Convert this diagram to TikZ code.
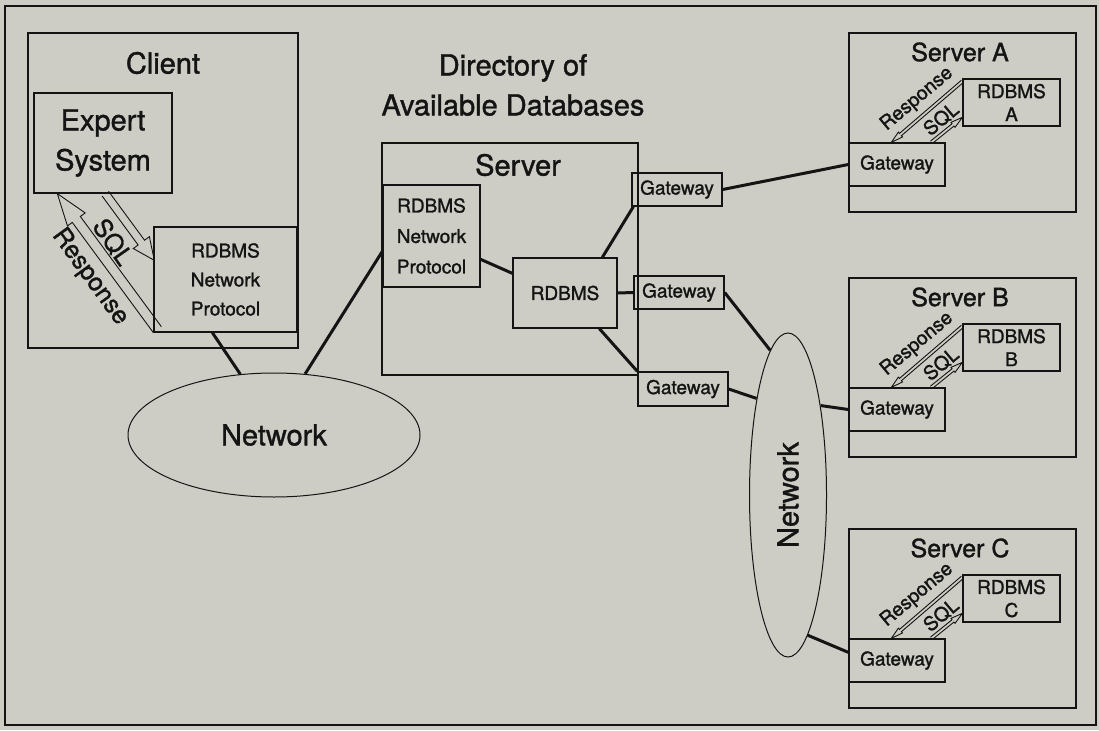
\documentclass[tikz,border=0pt]{standalone}
\usepackage{fontspec}
\usepackage{graphicx}
\setmainfont{TeX Gyre Heros}[FakeBold=1.3]
\usetikzlibrary{calc,shapes.geometric}
\definecolor{paper}{RGB}{205,205,197}
\definecolor{ink}{RGB}{20,20,20}
\newcommand\hollowarrow[5]{%
  \coordinate (haH) at ($(#2)!#5!(#1)$);
  \draw[arrowline] ($(#1)!#3!90:(#2)$) -- ($(haH)!#3!90:(#2)$) -- ($(haH)!#4!90:(#2)$) -- (#2)
    -- ($(haH)!#4!-90:(#2)$) -- ($(haH)!#3!-90:(#2)$) -- ($(#1)!#3!-90:(#2)$);
}
\tikzset{
  box/.style={draw=ink, line width=1.3pt, inner sep=0pt, align=center},
  big/.style={font=\fontsize{29}{40}\selectfont},
  mid/.style={font=\fontsize{25}{30}\selectfont},
  sml/.style={font=\fontsize{19}{30}\selectfont},
  tiny/.style={font=\fontsize{19.5}{24}\selectfont},
  conn/.style={draw=ink, line width=3pt},
  arrowline/.style={draw=ink, line width=0.9pt, line join=miter},
  net/.style={draw=ink, ellipse, line width=1pt, inner sep=0pt}
}
\begin{document}
\begin{tikzpicture}[x=1pt,y=-1pt,text=ink]
\fill[paper] (0,0) rectangle (1099,730);
\useasboundingbox (0,0) rectangle (1099,730);
\node[box, line width=2pt, minimum width=1091, minimum height=719] (frame) at (550.5,365.5) {};

% Client
\node[box, minimum width=270, minimum height=315] (client) at (163,190.5) {};
\node[big] (clientT) at (163,63) {Client};
\node[box, big, minimum width=138, minimum height=100] (es) at (103,143) {Expert\\System};
\node[box, sml, font=\fontsize{19}{29}\selectfont, minimum width=143, minimum height=105] (cnp) at (225.5,279.5) {RDBMS\\Network\\Protocol};
\coordinate (sqlS) at ($(es.south west)+(72,0)$);
\coordinate (sqlE) at ($(cnp.north west)+(1,34)$);
\coordinate (resS) at ($(cnp.south west)+(4,-3)$);
\coordinate (resE) at ($(es.south west)+(24,0)$);
\hollowarrow{sqlS}{sqlE}{4pt}{10pt}{22pt}
\hollowarrow{resS}{resE}{5pt}{11pt}{32pt}
\node[mid, rotate=-55] (sqlL) at (113,242) {SQL};
\node[mid, rotate=-54] (resL) at (90,277) {Response};

% Directory header
\node[big, align=center] (dir) at (513,85) {Directory of\\Available Databases};

% Central server
\node[box, minimum width=256, minimum height=232] (srv) at (510,259) {};
\node[big] (srvT) at (518,165) {Server};
\node[box, sml, font=\fontsize{19}{30.5}\selectfont, minimum width=97, minimum height=102] (snp) at (431.5,236) {RDBMS\\Network\\Protocol};
\node[box, sml, minimum width=104, minimum height=70] (srd) at (565,293) {RDBMS};
\node[box, sml, minimum width=90, minimum height=33] (g1) at (677,189.5) {Gateway};
\node[box, sml, minimum width=90, minimum height=33] (g2) at (679,292.5) {Gateway};
\node[box, sml, minimum width=90, minimum height=34] (g3) at (683,389) {Gateway};

% Remote servers
\foreach \L/\dy in {A/0,B/245,C/496}{
  \node[box, minimum width=227, minimum height=179] (srv\L) at (962.5,{122.5+\dy}) {};
  \node[mid] (srv\L T) at (960,{52+\dy}) {Server \L};
  \node[box, sml, font=\fontsize{19}{23}\selectfont, minimum width=97, minimum height=47] (r\L) at (1011.5,{102.5+\dy}) {RDBMS\\\L};
  \node[box, sml, minimum width=96, minimum height=43] (g\L) at (897,{164.5+\dy}) {Gateway};
  \coordinate (rs\L) at ($(r\L.north west)+(0,3)$);
  \coordinate (re\L) at ($(g\L.north west)+(43,0)$);
  \coordinate (qs\L) at ($(g\L.north west)+(83,0)$);
  \coordinate (qe\L) at ($(r\L.north west)+(0,39)$);
  \hollowarrow{rs\L}{re\L}{1.5pt}{3.2pt}{12pt}
  \hollowarrow{qs\L}{qe\L}{1.5pt}{3.2pt}{12pt}
  \node[tiny, rotate=40] (rl\L) at (917,{99+\dy}) {Response};
  \node[tiny, rotate=40] (ql\L) at (941,{119+\dy}) {SQL};
}

% Networks
\node[net, big, minimum width=292, minimum height=124] (net1) at (274,435) {Network};
\node[net, big, minimum width=77, minimum height=324] (net2) at (788,495) {\rotatebox{90}{Network}};

% Connectors
\draw[conn] ($(cnp.south west)+(59,0)$) -- (net1.119);
\draw[conn] (net1.63) -- ($(snp.north west)+(0,67)$);
\draw[conn] ($(snp.north east)+(0,75)$) -- ($(srd.north west)+(0,16)$);
\draw[conn] ($(srd.north west)+(90,0)$) -- ($(g1.south west)+(2,0)$);
\draw[conn] (srd.east) -- (g2.west);
\draw[conn] ($(srd.south west)+(87,0)$) -- (g3.north west);
\draw[conn] (g1.east) -- (gA.west);
\draw[conn] (g2.east) -- (net2.97);
\draw[conn] (g3.east) -- (net2.108);
\draw[conn] (net2.70) -- (gB.west);
\draw[conn] (net2.-82) -- ($(gC.north west)+(0,14)$);
\end{tikzpicture}
\end{document}
